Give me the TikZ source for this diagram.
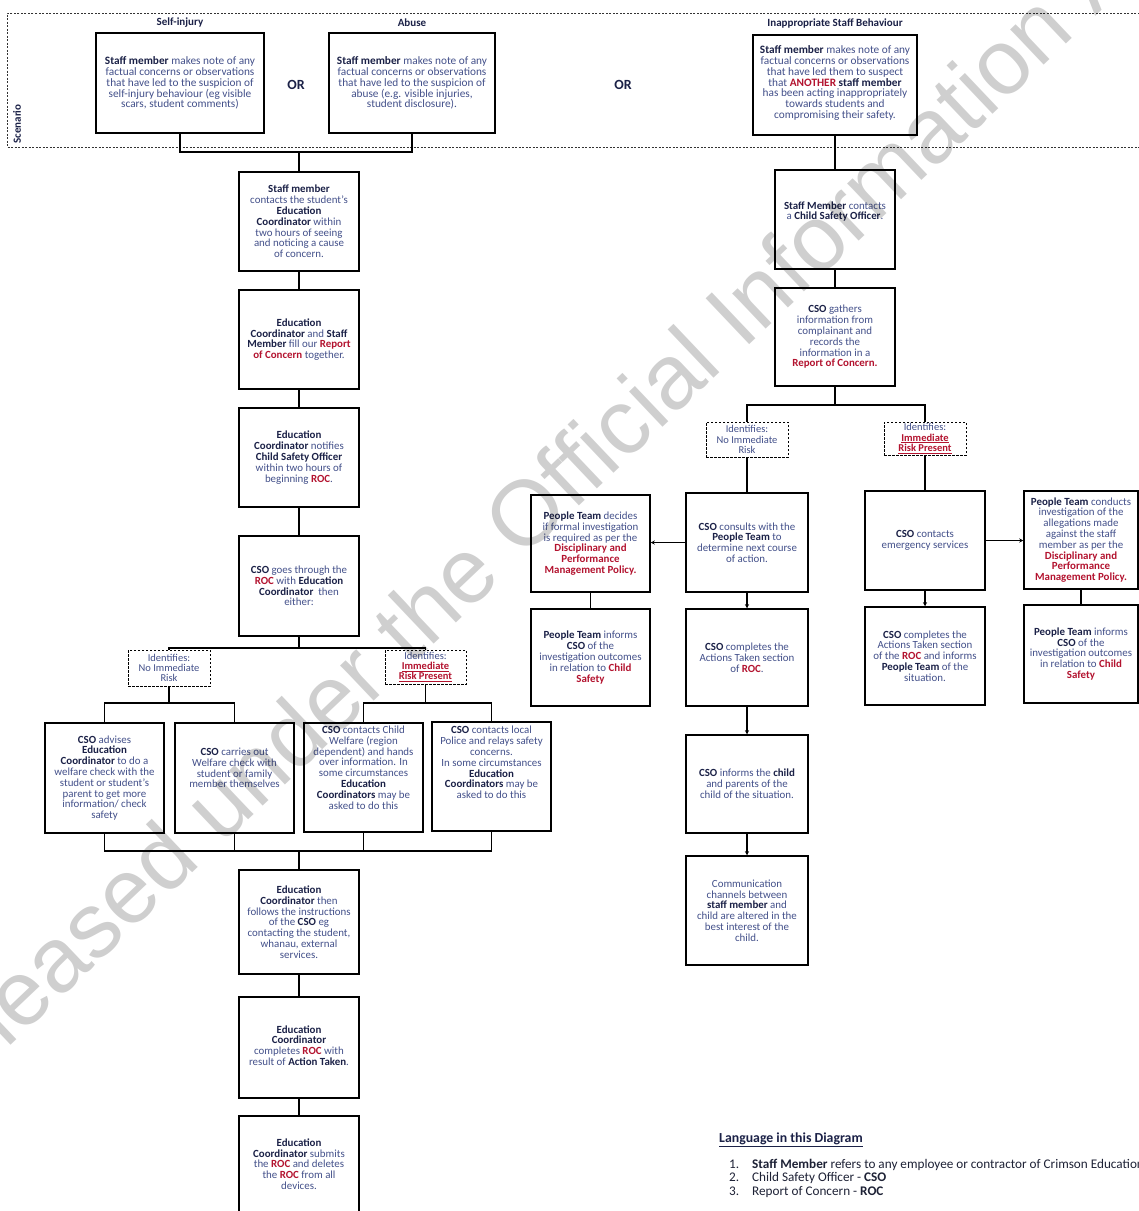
\documentclass[tikz,border=0pt]{standalone}
\usepackage{fontspec}
\setmainfont{Carlito}
\newfontfamily\wmfont{Liberation Sans}
\usetikzlibrary{arrows.meta}
\definecolor{navy}{HTML}{1B2147}
\definecolor{tblue}{HTML}{43508A}
\definecolor{rred}{HTML}{B3132F}
\definecolor{ldark}{HTML}{1E2236}
\newcommand\nv[1]{{\bfseries\color{navy}#1}}
\newcommand\rd[1]{{\bfseries\color{rred}#1}}
\newcommand\rdu[1]{{\color{rred}\underline{\bfseries #1}}}
\tikzset{
 box/.style={draw=black, line width=1.5pt, inner sep=0pt},
 dbox/.style={draw=black, line width=1pt, dash pattern=on 2.5pt off 1.5pt, inner sep=0pt},
 txt/.style={align=center, inner sep=0pt, text=tblue, font=\fontsize{10.9}{10.8}\selectfont},
 toptxt/.style={font=\fontsize{11.3}{10.9}\selectfont},
 dtxt/.style={font=\fontsize{10.5}{10.3}\selectfont},
 conn/.style={line width=1.4pt, draw=black},
 arr/.style={conn, -{Stealth[length=4pt,width=4pt]}},
 hdr/.style={font=\bfseries\fontsize{11}{12}\selectfont, text=navy, inner sep=0pt},
 orlabel/.style={font=\bfseries\fontsize{14}{14}\selectfont, text=navy, inner sep=0pt},
 langtxt/.style={font=\fontsize{13.2}{13.5}\selectfont, text=ldark, inner sep=0pt, anchor=base west},
}
\newcommand\mybox[7][]{%
 \node[box, minimum width={(#5-#3)*1pt}, minimum height={(#6-#4)*1pt}] (#2) at ({(#3+#5)/2},{(#4+#6)/2}) {};
 \node[txt,#1] (#2t) at (#2.center) {#7};}
\newcommand\mydbox[7][]{%
 \node[dbox, minimum width={(#5-#3)*1pt}, minimum height={(#6-#4)*1pt}] (#2) at ({(#3+#5)/2},{(#4+#6)/2}) {};
 \node[txt,dtxt,#1] (#2t) at (#2.center) {#7};}
\begin{document}
\begin{tikzpicture}[x=1pt,y=-1pt]
\useasboundingbox (0,0) rectangle (1139,1211);
\clip (0,0) rectangle (1139,1211);
\fill[white] (0,0) rectangle (1139,1211);
% scenario frame
\draw[line width=1pt, draw=black!80, dash pattern=on 2pt off 1.5pt] (1150,13) -- (7,13) -- (7,147) -- (1150,147);
\node[hdr, rotate=90] (scen) at (17,124) {Scenario};
\node[hdr] (h1) at (180,23) {Self-injury};
\node[hdr] (h2) at (412,23) {Abuse};
\node[hdr] (h3) at (835,23) {Inappropriate Staff Behaviour};
\node[orlabel] (or1) at (296,85) {OR};
\node[orlabel] (or2) at (623,85) {OR};
% top boxes
\mybox[toptxt]{S1}{96}{33}{264}{133}{\nv{Staff member} makes note of any\\ factual concerns or observations\\ that have led to the suspicion of\\ self-injury behaviour (eg visible\\ scars, student comments)}
\mybox[toptxt]{S2}{329}{33}{495}{133}{\nv{Staff member} makes note of any\\ factual concerns or observations\\ that have led to the suspicion of\\ abuse (e.g. visible injuries,\\ student disclosure).}
\mybox[toptxt,yshift=2pt]{S3}{753}{35}{917}{135}{\nv{Staff member} makes note of any\\ factual concerns or observations\\ that have led them to suspect\\ that \rd{ANOTHER} \nv{staff member}\\ has been acting inappropriately\\ towards students and\\ compromising their safety.}
% left column
\mybox{A1}{239}{172}{359}{271}{\nv{Staff member}\\ contacts the student's\\ \nv{Education}\\ \nv{Coordinator} within\\ two hours of seeing\\ and noticing a cause\\ of concern.}
\mybox{A2}{239}{290}{359}{389}{\nv{Education}\\ \nv{Coordinator} and \nv{Staff}\\ \nv{Member} fill our \rd{Report}\\ \rd{of Concern} together.}
\mybox{A3}{239}{408}{359}{507}{\nv{Education}\\ \nv{Coordinator} notifies\\ \nv{Child Safety Officer}\\ within two hours of\\ beginning \rd{ROC}.}
\mybox{A4}{239}{536}{359}{636}{\nv{CSO} goes through the\\ \rd{ROC} with \nv{Education}\\ \nv{Coordinator}\ \ then\\ either:}
\mydbox{D1}{128}{650}{210}{686}{Identifies:\\ No Immediate\\ Risk}
\mydbox{D2}{385}{650}{466}{684}{Identifies:\\ \rdu{Immediate}\\ \rdu{Risk Present}}
\mybox{B1}{45}{723}{164}{833}{\nv{CSO} advises\\ \nv{Education}\\ \nv{Coordinator} to do a\\ welfare check with the\\ student or student's\\ parent to get more\\ information/ check\\ safety}
\mybox[yshift=10pt]{B2}{175}{723}{294}{833}{\nv{CSO} carries out\\ Welfare check with\\ student or family\\ member themselves}
\mybox[yshift=10pt]{B3}{304}{723}{423}{832}{\nv{CSO} contacts Child\\ Welfare (region\\ dependent) and hands\\ over information. In\\ some circumstances\\ \nv{Education}\\ \nv{Coordinators} may be\\ asked to do this}
\mybox[yshift=14pt]{B4}{432}{722}{551}{831}{\nv{CSO} contacts local\\ Police and relays safety\\ concerns.\\ In some circumstances\\ \nv{Education}\\ \nv{Coordinators} may be\\ asked to do this}
\mybox{A5}{239}{870}{359}{974}{\nv{Education}\\ \nv{Coordinator} then\\ follows the instructions\\ of the \nv{CSO} eg\\ contacting the student,\\ whanau, external\\ services.}
\mybox[yshift=2pt]{A6}{239}{997}{359}{1098}{\nv{Education}\\ \nv{Coordinator}\\ completes \rd{ROC} with\\ result of \nv{Action Taken}.}
\mybox{A7}{239}{1116}{359}{1212}{\nv{Education}\\ \nv{Coordinator} submits\\ the \rd{ROC} and deletes\\ the \rd{ROC} from all\\ devices.}
% right column
\mybox[yshift=8pt]{R1}{775}{170}{895}{269}{\nv{Staff Member} contacts\\ a \nv{Child Safety Officer}.}
\mybox{R2}{775}{288}{895}{386}{\nv{CSO} gathers\\ information from\\ complainant and\\ records the\\ information in a\\ \rd{Report of Concern.}}
\mydbox{D3}{706}{422}{788}{457}{Identifies:\\ No Immediate\\ Risk}
\mydbox{D4}{884}{422}{966}{455}{Identifies:\\ \rdu{Immediate}\\ \rdu{Risk Present}}
\mybox{RL1}{531}{495}{650}{592}{\nv{People Team} decides\\ if formal investigation\\ is required as per the\\ \rd{Disciplinary and}\\ \rd{Performance}\\ \rd{Management Policy.}}
\mybox{R3}{686}{493}{808}{592}{\nv{CSO} consults with the\\ \nv{People Team} to\\ determine next course\\ of action.}
\mybox{RL2}{531}{609}{650}{706}{\nv{People Team} informs\\ \nv{CSO} of the\\ investigation outcomes\\ in relation to \rd{Child}\\ \rd{Safety}}
\mybox{R4}{686}{609}{808}{706}{\nv{CSO} completes the\\ Actions Taken section\\ of\ \rd{ROC}.}
\mybox{R6}{686}{735}{808}{833}{\nv{CSO} informs the \nv{child}\\ and parents of the\\ child of the situation.}
\mybox{R7}{686}{856}{808}{965}{Communication\\ channels between\\ \nv{staff member} and\\ child are altered in the\\ best interest of the\\ child.}
\mybox{R5}{865}{491}{985}{590}{\nv{CSO} contacts\\ emergency services}
\mybox{RR1}{1024}{491}{1138}{589}{\nv{People Team} conducts\\ investigation of the\\ allegations made\\ against the staff\\ member as per the\\ \rd{Disciplinary and}\\ \rd{Performance}\\ \rd{Management Policy.}}
\mybox{R8}{865}{607}{985}{705}{\nv{CSO} completes the\\ Actions Taken section\\ of the \rd{ROC} and informs\\ \nv{People Team} of the\\ situation.}
\mybox{RR2}{1024}{605}{1138}{703}{\nv{People Team} informs\\ \nv{CSO} of the\\ investigation outcomes\\ in relation to \rd{Child}\\ \rd{Safety}}
% junctions
\coordinate (j1) at (299,152);
\coordinate (j2) at (299,648);
\coordinate (j3) at (169,703);
\coordinate (j4) at (425.5,703);
\coordinate (j5) at (299,851);
\coordinate (j6) at (835,405);
% left connectors
\draw[conn] (S1.south) |- (j1) -| (S2.south);
\draw[conn] (j1) -- (A1.north);
\draw[conn] (A1.south) -- (A2.north);
\draw[conn] (A2.south) -- (A3.north);
\draw[conn] (A3.south) -- (A4.north);
\draw[conn] (A4.south) -- (j2);
\draw[conn] (D1.north) |- (j2) -| (D2.north);
\draw[conn] (D1.south) -- (j3);
\draw[conn] (B1.north) |- (j3) -| (B2.north);
\draw[conn] (D2.south) -- (j4);
\draw[conn] (B3.north) |- (j4) -| (B4.north);
\draw[conn] (B1.south) |- (j5) -| (B4.south);
\draw[conn] (B2.south) -- (B2.south |- j5);
\draw[conn] (B3.south) -- (B3.south |- j5);
\draw[conn] (j5) -- (A5.north);
\draw[conn] (A5.south) -- (A6.north);
\draw[conn] (A6.south) -- (A7.north);
% right connectors
\draw[conn] (S3.south) -- (R1.north);
\draw[conn] (R1.south) -- (R2.north);
\draw[conn] (R2.south) -- (j6);
\draw[conn] (D3.north) |- (j6) -| (D4.north);
\draw[conn] (D3.south) -- (R3.north);
\draw[conn] (D4.south) -- (R5.north);
\draw[arr] (R3.west) -- (R3.west -| RL1.east);
\draw[conn] (RL1.south) -- (RL2.north);
\draw[arr] (R3.south) -- (R4.north);
\draw[arr] (R4.south) -- (R6.north);
\draw[arr] (R6.south) -- (R7.north);
\draw[arr] (R5.east) -- (R5.east -| RR1.west);
\draw[arr] (R5.south) -- (R8.north);
\draw[conn] (RR1.south) -- (RR2.north);
% language
\node[langtxt, text=navy, font=\fontsize{13.8}{14}\selectfont] (lt) at (719,1142) {\underline{\bfseries Language in this Diagram}};
\node[langtxt] (n1) at (729,1168) {1.};
\node[langtxt] (l1) at (752,1168) {\textbf{Staff Member} refers to any employee or contractor of Crimson Education.};
\node[langtxt] (n2) at (729,1181.5) {2.};
\node[langtxt] (l2) at (752,1181.5) {Child Safety Officer - \textbf{CSO}};
\node[langtxt] (n3) at (729,1195) {3.};
\node[langtxt] (l3) at (752,1195) {Report of Concern - \textbf{ROC}};
% watermark
\node[anchor=base west, rotate=43.5, inner sep=0pt, text=black, opacity=0.19, font=\wmfont\fontsize{92}{92}\selectfont] (wm) at (-79,1131) {Released under the Official Information Act};
\end{tikzpicture}
\end{document}
